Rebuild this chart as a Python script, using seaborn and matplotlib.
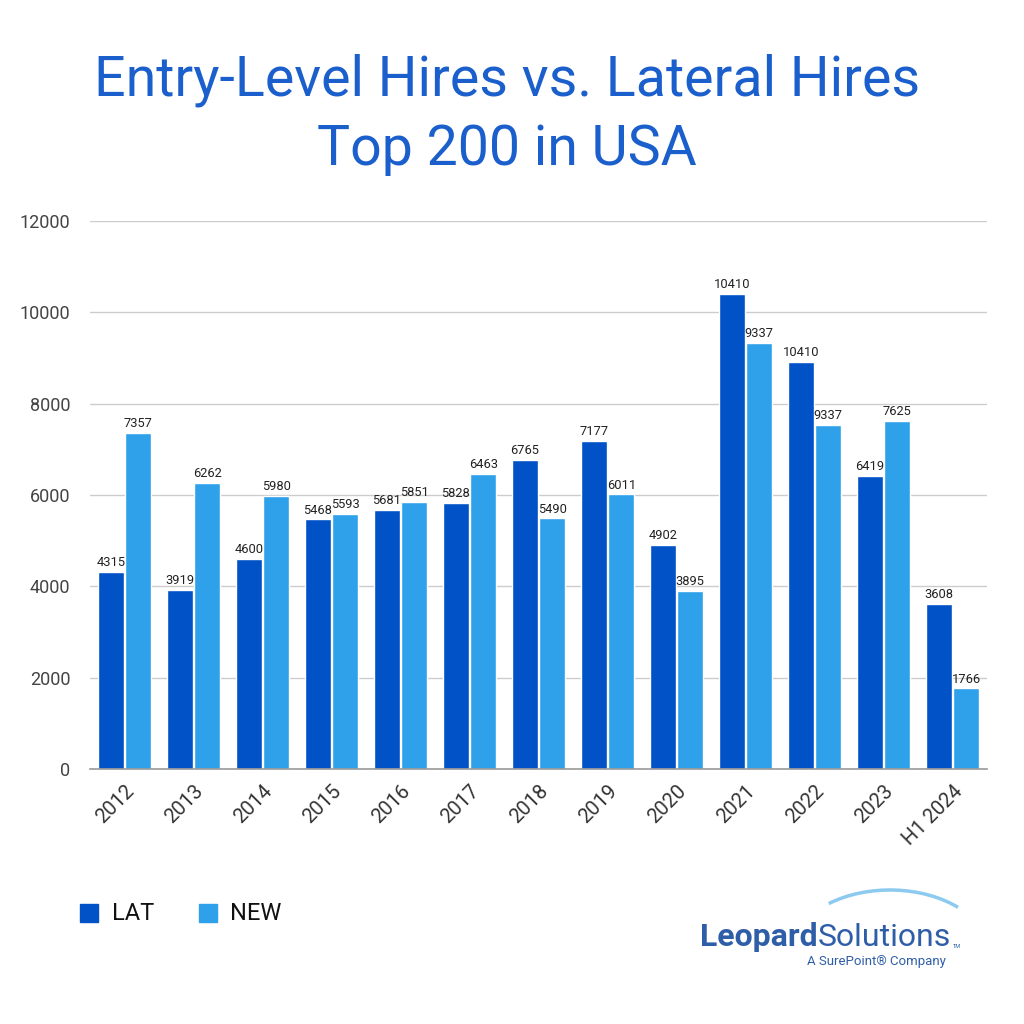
import matplotlib
matplotlib.use("Agg")
import matplotlib.pyplot as plt
import seaborn as sns
import pandas as pd
from matplotlib.patches import Arc

years = ["2012", "2013", "2014", "2015", "2016", "2017", "2018", "2019",
         "2020", "2021", "2022", "2023", "H1 2024"]
lat_values = [4315, 3919, 4600, 5468, 5681, 5828, 6765, 7177, 4902, 10410, 8910, 6419, 3608]
new_values = [7357, 6262, 5980, 5593, 5851, 6463, 5490, 6011, 3895, 9337, 7535, 7625, 1766]
lat_labels = ["4315", "3919", "4600", "5468", "5681", "5828", "6765", "7177",
              "4902", "10410", "10410", "6419", "3608"]
new_labels = ["7357", "6262", "5980", "5593", "5851", "6463", "5490", "6011",
              "3895", "9337", "9337", "7625", "1766"]
series = ["LAT", "NEW"]
y_ticks = [0, 2000, 4000, 6000, 8000, 10000, 12000]

LAT_C = "#0052c6"
NEW_C = "#2ea1ea"
TITLE_C = "#1a5fcc"

df = pd.DataFrame({
    "year": years * 2,
    "value": lat_values + new_values,
    "series": [series[0]] * len(years) + [series[1]] * len(years),
})

sns.set_theme(style="white")
plt.rcParams["font.family"] = ["Roboto", "DejaVu Sans"]

fig = plt.figure(figsize=(10.24, 10.24), dpi=100)
ax = fig.add_axes([90 / 1024, 1 - 769 / 1024, 897 / 1024, 548 / 1024])

sns.barplot(data=df, x="year", y="value", hue="series", order=years,
            hue_order=series, palette=[LAT_C, NEW_C], width=0.8, gap=0.05,
            ax=ax, legend=False, saturation=1)

for cont, labs in zip(ax.containers, [lat_labels, new_labels]):
    ax.bar_label(cont, labels=labs, padding=2, fontsize=9.3, color="#222222")

ax.set_ylim(0, 12000)
ax.set_xlim(-0.5, len(years) - 0.5)
ax.set_yticks(y_ticks)
ax.set_yticklabels([str(t) for t in y_ticks], fontsize=13, color="#444444")
ax.tick_params(axis="y", length=0, pad=14)
ax.tick_params(axis="x", length=0, pad=9)
plt.setp(ax.get_xticklabels(), rotation=45, ha="right", rotation_mode="anchor",
         fontsize=14.5, color="#333333")
ax.set_xlabel("")
ax.set_ylabel("")
ax.yaxis.grid(True, color="#cccccc", linewidth=1)
ax.set_axisbelow(True)
for s in ["top", "right", "left"]:
    ax.spines[s].set_visible(False)
ax.spines["bottom"].set_color("#999999")
ax.spines["bottom"].set_linewidth(1.2)

fig.text(0.495, 1 - 80 / 1024, "Entry-Level Hires vs. Lateral Hires", ha="center",
         va="center", fontsize=40, color=TITLE_C)
fig.text(0.495, 1 - 150 / 1024, "Top 200 in USA", ha="center", va="center",
         fontsize=40, color=TITLE_C)

# legend
fig.patches.append(plt.Rectangle((80 / 1024, 1 - 922 / 1024), 18 / 1024, 18 / 1024,
                                 transform=fig.transFigure, color=LAT_C))
fig.text(112 / 1024, 1 - 913 / 1024, "LAT", fontsize=17, va="center", color="#111111")
fig.patches.append(plt.Rectangle((199 / 1024, 1 - 922 / 1024), 18 / 1024, 18 / 1024,
                                 transform=fig.transFigure, color=NEW_C))
fig.text(230 / 1024, 1 - 913 / 1024, "NEW", fontsize=17, va="center", color="#111111")

# logo
logo_c = "#2f5ea8"
t1 = fig.text(700 / 1024, 1 - 937 / 1024, "Leopard", fontsize=23, fontweight="bold",
              color=logo_c, va="center", ha="left")
fig.canvas.draw()
bb = t1.get_window_extent()
x2 = bb.x1 / fig.bbox.width
t2 = fig.text(x2, 1 - 937 / 1024, "Solutions", fontsize=23, color=logo_c,
              va="center", ha="left")
fig.canvas.draw()
bb2 = t2.get_window_extent()
fig.text(bb2.x1 / fig.bbox.width + 0.002, 1 - 946 / 1024, "TM", fontsize=4,
         color=logo_c, va="center")
fig.text(bb2.x1 / fig.bbox.width - 0.005, 1 - 961 / 1024, "A SurePoint\u00ae Company",
         fontsize=9.5, color=logo_c, va="center", ha="right")
arc = Arc((890 / 1024, 1 - 955 / 1024), 200 / 1024, 130 / 1024, theta1=35, theta2=140,
          transform=fig.transFigure, color="#8ccaf0", linewidth=2.5)
fig.patches.append(arc)

fig.savefig("out.png", dpi=100, facecolor="white")
